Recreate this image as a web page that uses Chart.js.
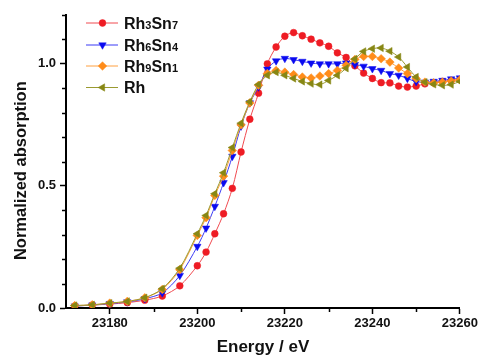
<!DOCTYPE html>
<html>
<head>
<meta charset="utf-8">
<script src="https://cdn.jsdelivr.net/npm/chart.js@4/dist/chart.umd.min.js"></script>
<style>
  html, body { margin: 0; padding: 0; background: #fff; }
  #wrap { width: 480px; height: 358px; }
</style>
</head>
<body>
<div id="wrap"><canvas id="chart" width="480" height="358"></canvas></div>
<script>
// energies (eV): 4 eV steps in the pre-edge, then 2 eV steps
const energies = [23172, 23176, 23180, 23184, 23188, 23192, 23196,
  23200, 23202, 23204, 23206, 23208, 23210, 23212, 23214, 23216, 23218,
  23220, 23222, 23224, 23226, 23228, 23230, 23232, 23234, 23236, 23238,
  23240, 23242, 23244, 23246, 23248, 23250, 23252, 23254, 23256, 23258, 23260];

const seriesNames = ["Rh3Sn7", "Rh6Sn4", "Rh9Sn1", "Rh"];

const rh3sn7 = [0.008, 0.012, 0.016, 0.022, 0.032, 0.049, 0.091,
  0.173, 0.229, 0.304, 0.386, 0.490, 0.639, 0.773, 0.880, 1.000, 1.069,
  1.113, 1.128, 1.115, 1.101, 1.086, 1.072, 1.045, 1.026, 0.992, 0.962,
  0.940, 0.923, 0.922, 0.909, 0.905, 0.909, 0.918, 0.923, 0.928, 0.932, 0.936];

const rh6sn4 = [0.008, 0.012, 0.018, 0.025, 0.038, 0.062, 0.133,
  0.252, 0.327, 0.416, 0.513, 0.621, 0.745, 0.840, 0.905, 0.978, 1.012,
  1.022, 1.017, 1.010, 1.003, 1.000, 1.000, 1.000, 1.003, 0.997, 0.990,
  0.980, 0.973, 0.960, 0.953, 0.940, 0.927, 0.925, 0.928, 0.932, 0.938, 0.942];

const rh9sn1 = [0.010, 0.013, 0.020, 0.027, 0.042, 0.076, 0.157,
  0.297, 0.370, 0.461, 0.540, 0.645, 0.750, 0.840, 0.912, 0.960, 0.973,
  0.966, 0.956, 0.946, 0.942, 0.950, 0.960, 0.973, 0.994, 1.018, 1.030,
  1.030, 1.021, 1.007, 0.983, 0.960, 0.940, 0.925, 0.922, 0.925, 0.930, 0.935];

const rh = [0.010, 0.013, 0.020, 0.027, 0.042, 0.079, 0.163,
  0.304, 0.379, 0.468, 0.554, 0.657, 0.757, 0.845, 0.915, 0.953, 0.966,
  0.953, 0.940, 0.928, 0.919, 0.915, 0.932, 0.953, 0.982, 1.020, 1.051,
  1.062, 1.065, 1.052, 1.028, 0.987, 0.946, 0.925, 0.916, 0.912, 0.915, 0.928];

const xTicksMajor = 20;
const yTicksMajor = 0.5;

const FONT = "'Liberation Sans', Arial, sans-serif";

function pts(values) {
  return energies.map((e, i) => ({ x: e, y: values[i] }));
}

const styles = [
  { color: "#ee1c24", line: "#f04a50", pointStyle: "circle", rotation: 0, radius: 3.4, order: 3 },
  { color: "#0a0af0", line: "#3b3bf5", pointStyle: "triangle", rotation: 180, radius: 4.3, order: 2 },
  { color: "#ff8c1a", line: "#ffa040", pointStyle: "rectRot", rotation: 0, radius: 4.3, order: 1 },
  { color: "#878714", line: "#9a9a30", pointStyle: "triangle", rotation: 270, radius: 4.3, order: 0 }
];

const allSeries = [rh3sn7, rh6sn4, rh9sn1, rh];

const datasets = allSeries.map((vals, i) => ({
  label: seriesNames[i],
  data: pts(vals),
  borderColor: styles[i].line,
  borderWidth: 1,
  backgroundColor: styles[i].color,
  pointBackgroundColor: styles[i].color,
  pointBorderColor: styles[i].color,
  pointBorderWidth: 0.5,
  pointStyle: styles[i].pointStyle,
  pointRotation: styles[i].rotation,
  pointRadius: styles[i].radius,
  tension: 0.3,
  order: styles[i].order
}));

function isMajor(v, step) {
  const r = v / step;
  return Math.abs(r - Math.round(r)) < 1e-6;
}

// minor tick marks, shorter than the major ones
const minorTicks = {
  id: "minorTicks",
  afterDraw(chart) {
    const ctx = chart.ctx;
    const xs = chart.scales.x, ys = chart.scales.y;
    const area = chart.chartArea;
    ctx.save();
    ctx.strokeStyle = "#000";
    ctx.lineWidth = 1.5;
    xs.ticks.forEach(t => {
      if (isMajor(t.value, xTicksMajor) || t.value === xs.min) return;
      const px = Math.round(xs.getPixelForValue(t.value)) + 0.5;
      ctx.beginPath();
      ctx.moveTo(px, area.bottom);
      ctx.lineTo(px, area.bottom + 4);
      ctx.stroke();
    });
    ys.ticks.forEach(t => {
      if (isMajor(t.value, yTicksMajor)) return;
      const py = Math.round(ys.getPixelForValue(t.value)) + 0.5;
      ctx.beginPath();
      ctx.moveTo(area.left, py);
      ctx.lineTo(area.left - 4, py);
      ctx.stroke();
    });
    ctx.restore();
  }
};

// legend in the upper left corner, digits drawn smaller
const insideLegend = {
  id: "insideLegend",
  afterDraw(chart) {
    const ctx = chart.ctx;
    const x0 = 86, x1 = 118, xm = 102.5, tx = 124;
    const rows = [23, 45, 66, 87.5];
    ctx.save();
    chart.data.datasets.forEach((ds, i) => {
      const y = rows[i];
      ctx.strokeStyle = ds.borderColor;
      ctx.lineWidth = 1;
      ctx.beginPath();
      ctx.moveTo(x0, y);
      ctx.lineTo(x1, y);
      ctx.stroke();
      ctx.fillStyle = ds.pointBackgroundColor;
      ctx.strokeStyle = ds.pointBorderColor;
      ctx.lineWidth = ds.pointBorderWidth;
      Chart.helpers.drawPoint(ctx, {
        pointStyle: ds.pointStyle,
        rotation: ds.pointRotation,
        radius: ds.pointRadius,
        borderWidth: ds.pointBorderWidth
      }, xm, y);
      // text with small digits
      ctx.fillStyle = "#111";
      ctx.textBaseline = "alphabetic";
      let cx = tx;
      const base = y + 5.8;
      ds.label.match(/\d+|\D+/g).forEach(part => {
        const small = /\d/.test(part);
        ctx.font = "bold " + (small ? 11 : 16) + "px " + FONT;
        ctx.fillText(part, cx, base + (small ? 0.5 : 0));
        cx += ctx.measureText(part).width;
      });
    });
    ctx.restore();
  }
};

new Chart(document.getElementById("chart"), {
  type: "line",
  data: { datasets },
  plugins: [minorTicks, insideLegend],
  options: {
    responsive: false,
    animation: false,
    events: [],
    layout: { padding: { top: 15, right: 20, left: 0, bottom: 0 } },
    plugins: {
      legend: { display: false },
      tooltip: { enabled: false }
    },
    scales: {
      x: {
        type: "linear",
        min: 23170,
        max: 23260,
        afterFit(scale) { scale.height = 50; },
        border: { color: "#000", width: 2 },
        grid: {
          drawOnChartArea: false,
          tickLength: 6,
          tickWidth: 1.5,
          tickColor: ctx => (ctx.tick && isMajor(ctx.tick.value, xTicksMajor)) ? "#000" : "rgba(0,0,0,0)"
        },
        ticks: {
          stepSize: 10,
          autoSkip: false,
          maxRotation: 0,
          padding: 2,
          color: "#111",
          font: { family: FONT, size: 13, weight: "bold" },
          callback: v => isMajor(v, xTicksMajor) ? String(v) : ""
        },
        title: {
          display: true,
          text: "Energy / eV",
          color: "#111",
          padding: { top: 0, bottom: 0 },
          font: { family: FONT, size: 17, weight: "bold" }
        }
      },
      y: {
        min: 0,
        max: 1.2,
        afterFit(scale) { scale.width = 66; },
        border: { color: "#000", width: 2 },
        grid: {
          drawOnChartArea: false,
          tickLength: 6,
          tickWidth: 1.5,
          tickColor: ctx => (ctx.tick && isMajor(ctx.tick.value, yTicksMajor)) ? "#000" : "rgba(0,0,0,0)"
        },
        ticks: {
          stepSize: 0.1,
          autoSkip: false,
          padding: 4,
          color: "#111",
          font: { family: FONT, size: 13, weight: "bold" },
          callback: v => isMajor(v, yTicksMajor) ? v.toFixed(1) : ""
        },
        title: {
          display: true,
          // trailing spaces push the centred label a little lower, as in the original
          text: "Normalized absorption    ",
          color: "#111",
          padding: { top: 12, bottom: 0 },
          font: { family: FONT, size: 16.5, weight: "bold" }
        }
      }
    }
  }
});
</script>
</body>
</html>
